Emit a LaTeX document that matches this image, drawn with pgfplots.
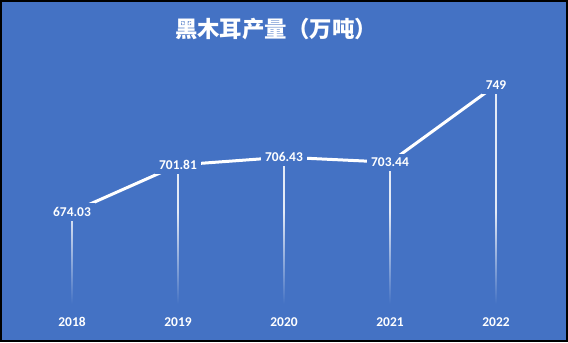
\documentclass[border=0pt]{standalone}
\usepackage{fontspec}
\setmainfont{Carlito}
\newfontfamily\cjk{Noto Sans CJK SC}
\usepackage{pgfplots}
\pgfplotsset{compat=1.18}
\usetikzlibrary{fadings}
\definecolor{bg}{HTML}{4472C4}
\definecolor{drop}{HTML}{E4EAF6}

\pgfplotstableread{
year value label
2018 674.03 674.03
2019 701.81 701.81
2020 706.43 706.43
2021 703.44 703.44
2022 749 749
}\output

\begin{document}
\begin{tikzpicture}[x=1bp,y=1bp]
% frame and background
\fill[black] (0,0) rectangle (568,342);
\fill[bg] (2,2) rectangle (566,340);
\node[text=white, font=\cjk\bfseries\fontsize{22.5}{26}\selectfont] at (276,313) {黑木耳产量（万吨）};

\begin{axis}[
  at={(19bp,38.5bp)}, anchor=south west,
  scale only axis, width=530bp, height=237bp,
  xmin=2017.5, xmax=2022.5, ymin=620, ymax=760,
  axis line style={draw=none},
  xtick={2018,2019,2020,2021,2022}, ytick=\empty,
  major tick length=0pt,
  /pgf/number format/1000 sep={},
  /pgf/number format/assume math mode=true,
  xticklabel style={text=white, font=\bfseries\fontsize{13.5}{16}\selectfont, anchor=center, yshift=-18.5bp},
]
% drop lines
\addplot[ycomb, drop, line width=1.6bp, mark=none] table[x=year, y=value] {\output};
% production line
\addplot[white, line width=3bp, mark=none] table[x=year, y=value] {\output};
% value labels
\addplot[draw=none, mark=none, nodes near coords, point meta=explicit symbolic,
  nodes near coords align=center,
  every node near coord/.append style={anchor=center, fill=bg, text=white,
    inner xsep=4bp, inner ysep=4bp, font=\bfseries\fontsize{13.5}{16}\selectfont}]
  table[x=year, y=value, meta=label] {\output};
\end{axis}
% fade the drop lines toward the baseline
\fill[bg, path fading=north] (19,38) rectangle (549,130);
\end{tikzpicture}
\end{document}
